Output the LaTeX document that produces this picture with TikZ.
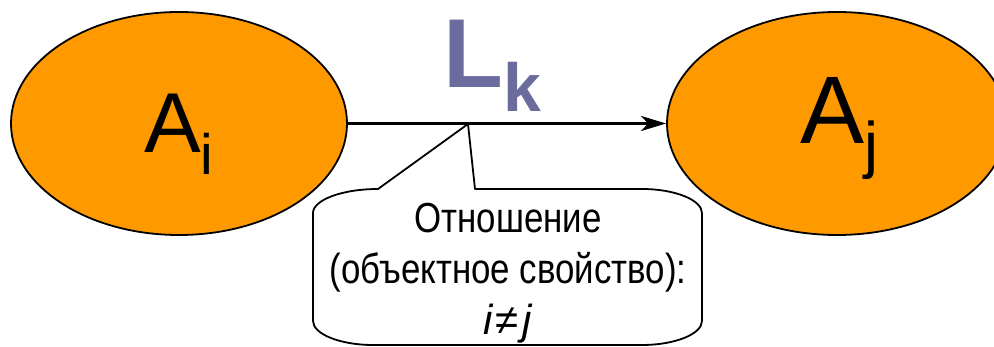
\documentclass[tikz,border=0pt]{standalone}
\usepackage{fontspec}
\setmainfont{Liberation Sans}
\newfontfamily\narrowsans[FakeStretch=0.83]{Liberation Sans}
\usetikzlibrary{arrows.meta, shapes.geometric}
\definecolor{EntityOrange}{HTML}{FF9900}
\definecolor{RelPurple}{HTML}{6B6B9E}

\begin{document}
\begin{tikzpicture}[x=1pt, y=-1pt, >=Stealth,
    entity/.style={ellipse, draw, line width=1.8pt, fill=EntityOrange, inner sep=0pt},
    lbl/.style={anchor=base west, inner sep=0pt},
    relarrow/.style={line width=3pt, -{Stealth[length=25pt, width=15pt, inset=7pt]}},
    callout/.style={draw, line width=1.8pt, fill=white, line join=round}]
  \useasboundingbox (0,0) rectangle (994,347);
  \clip (0,0) rectangle (994,347);

  % --- Classes ---
  \node[entity, minimum width=336pt, minimum height=223pt] (Ai) at (179,123.5) {};
  \node[entity, minimum width=340pt, minimum height=223pt] (Aj) at (837,123.5) {};
  \node[lbl, font=\fontsize{85}{85}\selectfont] (Ai-name) at (144,153)
    {A\raisebox{-22pt}{\fontsize{57}{57}\selectfont i}};
  \node[lbl, font=\fontsize{96}{96}\selectfont] (Aj-name) at (800,144)
    {A\raisebox{-23pt}{\fontsize{63}{63}\selectfont j}};

  % --- Relation L_k ---
  \draw[relarrow] (Ai) -- (Aj);
  \node[lbl, text=RelPurple, font=\fontsize{98}{98}\selectfont\bfseries] (Lk) at (443,88)
    {L\raisebox{-24pt}{\fontsize{68}{68}\selectfont k}};

  % --- Callout ---
  \coordinate (tip) at (468,124);
  \draw[callout] (378,189) -- (tip) -- (475,189) -- (642,189)
    .. controls (675,189) and (702,200) .. (702,213) -- (702,321)
    .. controls (702,334) and (675,345) .. (642,345) -- (373,345)
    .. controls (340,345) and (313,334) .. (313,321) -- (313,213)
    .. controls (313,200) and (342,189) .. (378,189) -- cycle;
  \node[anchor=base, inner sep=0pt, align=center,
        font=\narrowsans\fontsize{42}{51}\selectfont] (relation) at (508,335)
    {Отношение\\(объектное свойство):\\
     {\rmfamily\textit{i}\kern2pt≠\kern3pt\textit{j}}};
\end{tikzpicture}
\end{document}
